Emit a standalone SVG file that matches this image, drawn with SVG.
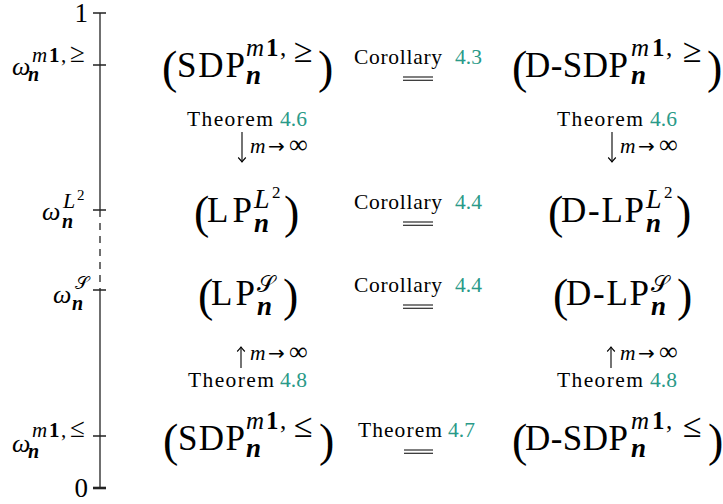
<svg xmlns="http://www.w3.org/2000/svg" width="723" height="504" viewBox="0 0 723 504" font-family="'Liberation Serif', serif">
<defs>
<style>
text, tspan {font-family:'Liberation Serif', 'DejaVu Serif', serif}
text{fill:#000}
.m{font-size:35px}
.pr{font-size:46px}
.sp{font-size:25px}
.ge{font-size:34px}
.sb{font-size:27px;font-style:italic;font-weight:bold}
.it{font-style:italic}
.b{font-weight:bold}
.lab{font-size:21.5px}
.ref{fill:#2a9a88}
.ax{font-size:26px;font-style:italic}
.axs{font-size:21px}
.axn{font-size:20px;font-style:italic;font-weight:bold}
.num{font-size:27px}
text.cal{font-family:'DejaVu Serif','DejaVu Sans','Noto Sans',serif}
tspan.ar{font-family:'DejaVu Sans',sans-serif;font-size:20px}
tspan.inf{font-size:26px}
.ln{stroke:#222;stroke-width:1.3;fill:none}
.eq{stroke:#000;stroke-width:1.1}
.arr{stroke:#000;stroke-width:1.1;fill:none}
</style>
<marker id="ah" viewBox="-6 -5 7 10" markerWidth="7" markerHeight="10" refX="0" refY="0" orient="auto" markerUnits="userSpaceOnUse">
<path d="M-4.5,-3.8 Q-1.5,-1 0,0 Q-1.5,1 -4.5,3.8" fill="none" stroke="#000" stroke-width="1.1"/>
</marker>
</defs>

<g id="axis">
<line class="ln" x1="100" y1="13" x2="100" y2="210"/>
<line class="ln" x1="100" y1="210" x2="100" y2="290" stroke-dasharray="7 6"/>
<line class="ln" x1="100" y1="290" x2="100" y2="488"/>
<path class="ln" d="M93 13H106M93 65H106M93 210H106M93 290H106M93 436H106"/>
<line x1="93" y1="488" x2="106" y2="488" stroke="#222" stroke-width="2.6"/>
<text class="num" x="88" y="22" text-anchor="end">1</text>
<text class="num" x="88" y="497" text-anchor="end">0</text>
<g id="w-sdp-ge">
<text class="ax" x="12" y="75">ω</text>
<text class="axs" y="62"><tspan class="it" x="32">m</tspan><tspan class="b" x="49">1</tspan><tspan x="61">,</tspan><tspan x="70" font-size="27">≥</tspan></text>
<text class="axn" x="28" y="81">n</text>
</g>
<g id="w-l2">
<text class="ax" x="42" y="220">ω</text>
<text class="it" font-size="22" x="63" y="208">L</text>
<text font-size="15" x="77" y="200">2</text>
<text class="axn" x="62" y="228">n</text>
</g>
<g id="w-s">
<text class="ax" x="53" y="303">ω</text>
<text class="cal" font-size="18" x="75" y="289">𝒮</text>
<text class="axn" x="72" y="310">n</text>
</g>
<g id="w-sdp-le">
<text class="ax" x="12" y="452">ω</text>
<text class="axs" y="437"><tspan class="it" x="32">m</tspan><tspan class="b" x="49">1</tspan><tspan x="61">,</tspan><tspan x="70" font-size="27">≤</tspan></text>
<text class="axn" x="28" y="458">n</text>
</g>
</g>

<g id="node-sdp-ge">
<text class="pr" x="162" y="83">(</text>
<text class="m" x="177" y="77" textLength="68" lengthAdjust="spacing">SDP</text>
<text class="sp" y="56"><tspan class="it" x="246">m</tspan><tspan class="b" x="266">1</tspan><tspan x="280">,</tspan></text>
<text class="ge" x="294" y="62">≥</text>
<text class="sb" x="246" y="84">n</text>
<text class="pr" x="318" y="83">)</text>
</g>

<g id="node-dsdp-ge">
<text class="pr" x="512" y="83">(</text>
<text class="m" x="525" y="77" textLength="103" lengthAdjust="spacing">D-SDP</text>
<text class="sp" y="56"><tspan class="it" x="631">m</tspan><tspan class="b" x="652">1</tspan><tspan x="666">,</tspan></text>
<text class="ge" x="683" y="62">≥</text>
<text class="sb" x="631" y="84">n</text>
<text class="pr" x="707" y="83">)</text>
</g>

<g id="node-lp-l2">
<text class="pr" x="194" y="228">(</text>
<text class="m" x="207" y="222" textLength="45" lengthAdjust="spacing">LP</text>
<text class="it" font-size="28" x="254" y="208">L</text>
<text font-size="17" x="272" y="198">2</text>
<text class="sb" x="254" y="232">n</text>
<text class="pr" x="284" y="228">)</text>
</g>

<g id="node-dlp-l2">
<text class="pr" x="548" y="228">(</text>
<text class="m" x="561" y="222" textLength="83" lengthAdjust="spacing">D-LP</text>
<text class="it" font-size="28" x="646" y="208">L</text>
<text font-size="17" x="664" y="198">2</text>
<text class="sb" x="646" y="232">n</text>
<text class="pr" x="676" y="228">)</text>
</g>

<g id="node-lp-s">
<text class="pr" x="198" y="311">(</text>
<text class="m" x="211" y="305" textLength="44" lengthAdjust="spacing">LP</text>
<text class="cal" font-size="23" x="257" y="292">𝒮</text>
<text class="sb" x="257" y="315">n</text>
<text class="pr" x="283" y="311">)</text>
</g>

<g id="node-dlp-s">
<text class="pr" x="553" y="311">(</text>
<text class="m" x="566" y="305" textLength="83" lengthAdjust="spacing">D-LP</text>
<text class="cal" font-size="23" x="651" y="292">𝒮</text>
<text class="sb" x="651" y="315">n</text>
<text class="pr" x="677" y="311">)</text>
</g>

<g id="node-sdp-le">
<text class="pr" x="163" y="456">(</text>
<text class="m" x="178" y="450" textLength="67" lengthAdjust="spacing">SDP</text>
<text class="sp" y="429"><tspan class="it" x="246">m</tspan><tspan class="b" x="266">1</tspan><tspan x="280">,</tspan></text>
<text class="ge" x="294" y="437">≤</text>
<text class="sb" x="246" y="457">n</text>
<text class="pr" x="319" y="456">)</text>
</g>

<g id="node-dsdp-le">
<text class="pr" x="512" y="456">(</text>
<text class="m" x="525" y="450" textLength="103" lengthAdjust="spacing">D-SDP</text>
<text class="sp" y="429"><tspan class="it" x="631">m</tspan><tspan class="b" x="652">1</tspan><tspan x="666">,</tspan></text>
<text class="ge" x="683" y="437">≤</text>
<text class="sb" x="631" y="457">n</text>
<text class="pr" x="708" y="456">)</text>
</g>

<g id="connectors">
<path class="eq" d="M403 77H433M403 80.3H433"/>
<path class="eq" d="M403 222H433M403 225.3H433"/>
<path class="eq" d="M403 305H433M403 308.3H433"/>
<path class="eq" d="M404 450H433M404 453.3H433"/>
<text class="lab" x="354" y="64"><tspan textLength="88" lengthAdjust="spacing">Corollary</tspan><tspan class="ref" x="455">4.3</tspan></text>
<text class="lab" x="354" y="209"><tspan textLength="88" lengthAdjust="spacing">Corollary</tspan><tspan class="ref" x="455">4.4</tspan></text>
<text class="lab" x="354" y="292"><tspan textLength="88" lengthAdjust="spacing">Corollary</tspan><tspan class="ref" x="455">4.4</tspan></text>
<text class="lab" x="358" y="437"><tspan textLength="84" lengthAdjust="spacing">Theorem</tspan><tspan class="ref" x="448">4.7</tspan></text>

<line class="arr" x1="242" y1="132" x2="242" y2="162" marker-end="url(#ah)"/>
<line class="arr" x1="612" y1="132" x2="612" y2="162" marker-end="url(#ah)"/>
<line class="arr" x1="241" y1="368" x2="241" y2="347" marker-end="url(#ah)"/>
<line class="arr" x1="611" y1="368" x2="611" y2="347" marker-end="url(#ah)"/>

<text class="lab" x="187" y="126"><tspan textLength="86" lengthAdjust="spacing">Theorem</tspan><tspan class="ref" x="280">4.6</tspan></text>
<text class="lab" x="557" y="126"><tspan textLength="86" lengthAdjust="spacing">Theorem</tspan><tspan class="ref" x="650">4.6</tspan></text>
<text class="lab" y="153"><tspan class="it" x="250">m</tspan><tspan class="ar" x="268">→</tspan><tspan class="inf" x="289">∞</tspan></text>
<text class="lab" y="153"><tspan class="it" x="620">m</tspan><tspan class="ar" x="638">→</tspan><tspan class="inf" x="659">∞</tspan></text>
<text class="lab" y="360"><tspan class="it" x="250">m</tspan><tspan class="ar" x="268">→</tspan><tspan class="inf" x="289">∞</tspan></text>
<text class="lab" y="360"><tspan class="it" x="620">m</tspan><tspan class="ar" x="638">→</tspan><tspan class="inf" x="659">∞</tspan></text>
<text class="lab" x="188" y="387"><tspan textLength="86" lengthAdjust="spacing">Theorem</tspan><tspan class="ref" x="280">4.8</tspan></text>
<text class="lab" x="557" y="387"><tspan textLength="86" lengthAdjust="spacing">Theorem</tspan><tspan class="ref" x="650">4.8</tspan></text>
</g>
</svg>
